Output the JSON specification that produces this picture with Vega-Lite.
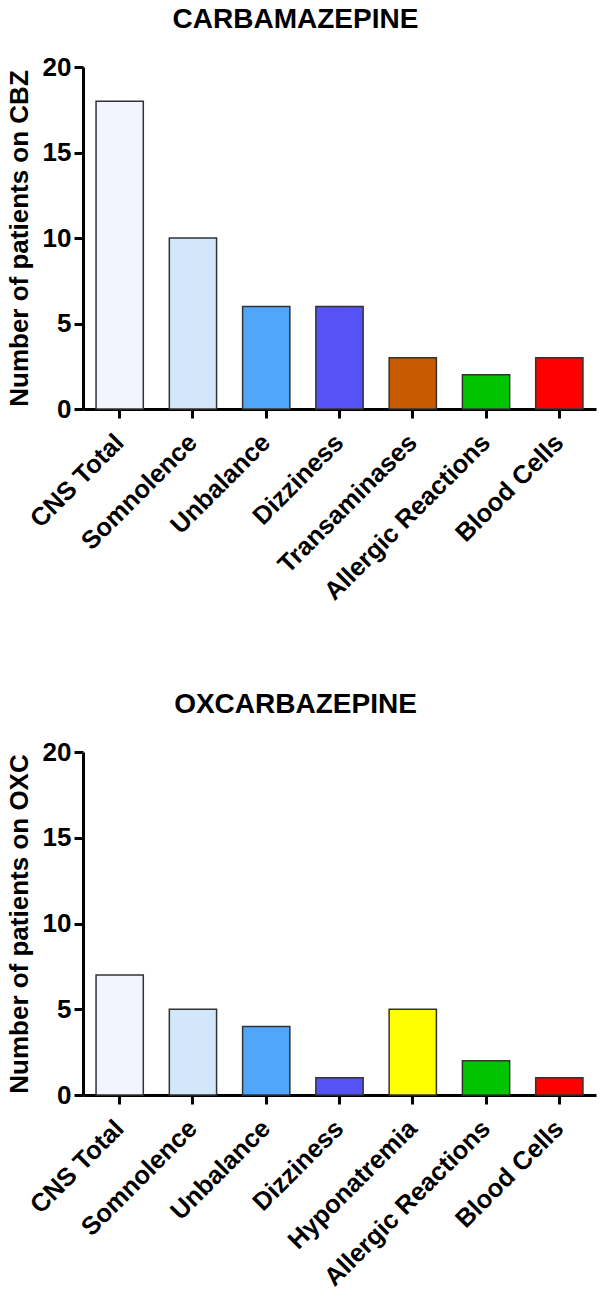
{
  "$schema": "https://vega.github.io/schema/vega-lite/v6.json",
  "background": "white",
  "padding": {"left": 6, "top": 6, "right": 2, "bottom": 0},
  "datasets": {
    "cbz": [
      {"effect": "CNS Total", "patients": 18},
      {"effect": "Somnolence", "patients": 10},
      {"effect": "Unbalance", "patients": 6},
      {"effect": "Dizziness", "patients": 6},
      {"effect": "Transaminases", "patients": 3},
      {"effect": "Allergic Reactions", "patients": 2},
      {"effect": "Blood Cells", "patients": 3}
    ],
    "oxc": [
      {"effect": "CNS Total", "patients": 7},
      {"effect": "Somnolence", "patients": 5},
      {"effect": "Unbalance", "patients": 4},
      {"effect": "Dizziness", "patients": 1},
      {"effect": "Hyponatremia", "patients": 5},
      {"effect": "Allergic Reactions", "patients": 2},
      {"effect": "Blood Cells", "patients": 1}
    ]
  },
  "spacing": 86,
  "vconcat": [
    {
      "title": {"text": "CARBAMAZEPINE", "dx": -44},
      "data": {"name": "cbz"},
      "width": 513,
      "height": 342,
      "mark": {"type": "bar", "stroke": "#333333", "strokeWidth": 1.5},
      "encoding": {
        "x": {"field": "effect", "type": "nominal", "sort": null, "title": null,
              "scale": {"paddingInner": 0.355, "paddingOuter": 0.178}},
        "y": {"field": "patients", "type": "quantitative", "title": "Number of patients on CBZ",
              "scale": {"domain": [0, 20]}, "axis": {"values": [0, 5, 10, 15, 20]}},
        "color": {"field": "effect", "type": "nominal", "legend": null,
                  "scale": {"domain": ["CNS Total", "Somnolence", "Unbalance", "Dizziness", "Transaminases", "Hyponatremia", "Allergic Reactions", "Blood Cells"],
                            "range": ["#f2f5fd", "#d3e7fa", "#4fa6fb", "#5552f6", "#c85a00", "#ffff00", "#00c400", "#ff0000"]}}
      }
    },
    {
      "title": {"text": "OXCARBAZEPINE", "dx": -44},
      "data": {"name": "oxc"},
      "width": 513,
      "height": 343,
      "mark": {"type": "bar", "stroke": "#333333", "strokeWidth": 1.5},
      "encoding": {
        "x": {"field": "effect", "type": "nominal", "sort": null, "title": null,
              "scale": {"paddingInner": 0.355, "paddingOuter": 0.178}},
        "y": {"field": "patients", "type": "quantitative", "title": "Number of patients on OXC",
              "scale": {"domain": [0, 20]}, "axis": {"values": [0, 5, 10, 15, 20]}},
        "color": {"field": "effect", "type": "nominal", "legend": null,
                  "scale": {"domain": ["CNS Total", "Somnolence", "Unbalance", "Dizziness", "Transaminases", "Hyponatremia", "Allergic Reactions", "Blood Cells"],
                            "range": ["#f2f5fd", "#d3e7fa", "#4fa6fb", "#5552f6", "#c85a00", "#ffff00", "#00c400", "#ff0000"]}}
      }
    }
  ],
  "resolve": {"scale": {"x": "independent", "y": "independent"}},
  "config": {
    "font": "Liberation Sans",
    "view": {"stroke": null},
    "title": {"fontSize": 28, "fontWeight": "bold", "color": "black", "anchor": "middle", "offset": 20},
    "axis": {
      "grid": false,
      "domainColor": "black",
      "domainWidth": 3,
      "tickColor": "black",
      "tickWidth": 3,
      "tickSize": 9,
      "labelFont": "Liberation Sans",
      "labelFontWeight": "bold",
      "labelColor": "black",
      "labelLimit": 0,
      "titleFont": "Liberation Sans",
      "titleFontWeight": "bold",
      "titleColor": "black"
    },
    "axisY": {"labelFontSize": 26, "labelPadding": 3, "titleFontSize": 26, "titlePadding": 10},
    "axisX": {"labelFontSize": 25.5, "labelAngle": -45, "labelAlign": "right", "labelBaseline": "middle", "labelPadding": 20}
  }
}
